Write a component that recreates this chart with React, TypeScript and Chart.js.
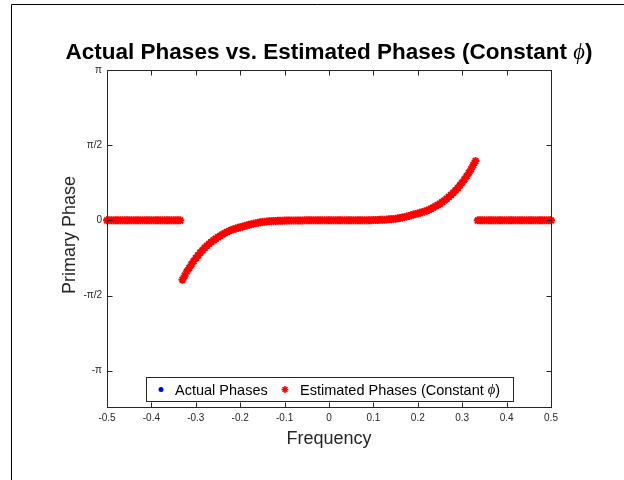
import React, { useEffect, useRef } from "react";
import { Chart, registerables } from "chart.js";

Chart.register(...registerables);

const FONT = '"Liberation Sans", Arial, Helvetica, sans-serif';
const SERIF = '"Liberation Serif", "DejaVu Serif", serif';
const TEXT = "#262626";

const titleMain = "Actual Phases vs. Estimated Phases (Constant ";
const phiSymbol = "\u03D5";
const xLabel = "Frequency";
const yLabel = "Primary Phase";
const legendActual = "Actual Phases";
const legendEstimated = "Estimated Phases (Constant ";

const xTickValues = [-0.5, -0.4, -0.3, -0.2, -0.1, 0, 0.1, 0.2, 0.3, 0.4, 0.5];
const xTickLabels = ["-0.5", "-0.4", "-0.3", "-0.2", "-0.1", "0", "0.1", "0.2", "0.3", "0.4", "0.5"];
const yTickValues = [-Math.PI, -Math.PI / 2, 0, Math.PI / 2, Math.PI];
const yTickLabels = ["-\u03C0", "-\u03C0/2", "0", "\u03C0/2", "\u03C0"];

const frequencies = [
  -0.5, -0.495, -0.49, -0.485, -0.48, -0.475, -0.47, -0.465, -0.46, -0.455,
  -0.45, -0.445, -0.44, -0.435, -0.43, -0.425, -0.42, -0.415, -0.41, -0.405,
  -0.4, -0.395, -0.39, -0.385, -0.38, -0.375, -0.37, -0.365, -0.36, -0.355,
  -0.35, -0.345, -0.34, -0.335, -0.33, -0.325, -0.32, -0.315, -0.31, -0.305,
  -0.3, -0.295, -0.29, -0.285, -0.28, -0.275, -0.27, -0.265, -0.26, -0.255,
  -0.25, -0.245, -0.24, -0.235, -0.23, -0.225, -0.22, -0.215, -0.21, -0.205,
  -0.2, -0.195, -0.19, -0.185, -0.18, -0.175, -0.17, -0.165, -0.16, -0.155,
  -0.15, -0.145, -0.14, -0.135, -0.13, -0.125, -0.12, -0.115, -0.11, -0.105,
  -0.1, -0.095, -0.09, -0.085, -0.08, -0.075, -0.07, -0.065, -0.06, -0.055,
  -0.05, -0.045, -0.04, -0.035, -0.03, -0.025, -0.02, -0.015, -0.01, -0.005,
  0, 0.005, 0.01, 0.015, 0.02, 0.025, 0.03, 0.035, 0.04, 0.045,
  0.05, 0.055, 0.06, 0.065, 0.07, 0.075, 0.08, 0.085, 0.09, 0.095,
  0.1, 0.105, 0.11, 0.115, 0.12, 0.125, 0.13, 0.135, 0.14, 0.145,
  0.15, 0.155, 0.16, 0.165, 0.17, 0.175, 0.18, 0.185, 0.19, 0.195,
  0.2, 0.205, 0.21, 0.215, 0.22, 0.225, 0.23, 0.235, 0.24, 0.245,
  0.25, 0.255, 0.26, 0.265, 0.27, 0.275, 0.28, 0.285, 0.29, 0.295,
  0.3, 0.305, 0.31, 0.315, 0.32, 0.325, 0.33, 0.335, 0.34, 0.345,
  0.35, 0.355, 0.36, 0.365, 0.37, 0.375, 0.38, 0.385, 0.39, 0.395,
  0.4, 0.405, 0.41, 0.415, 0.42, 0.425, 0.43, 0.435, 0.44, 0.445,
  0.45, 0.455, 0.46, 0.465, 0.47, 0.475, 0.48, 0.485, 0.49, 0.495,
  0.5,
];

const estimatedPhases = [
  0, 0, 0, 0, 0, 0, 0, 0, 0, 0,
  0, 0, 0, 0, 0, 0, 0, 0, 0, 0,
  0, 0, 0, 0, 0, 0, 0, 0, 0, 0,
  0, 0, 0, 0, -1.24, -1.155, -1.07, -0.995, -0.92, -0.855,
  -0.79, -0.732, -0.675, -0.625, -0.575, -0.532, -0.49, -0.452, -0.415, -0.382,
  -0.35, -0.322, -0.295, -0.27, -0.245, -0.222, -0.2, -0.185, -0.17, -0.157,
  -0.145, -0.132, -0.12, -0.105, -0.09, -0.08, -0.07, -0.06, -0.05, -0.042,
  -0.035, -0.03, -0.025, -0.021, -0.018, -0.015, -0.012, -0.01, -0.008, -0.006,
  -0.005, -0.004, -0.003, -0.003, -0.002, -0.002, -0.001, -0.001, -0.001, 0,
  0, 0, 0, 0, 0, 0, 0, 0, 0, 0,
  0, 0, 0, 0, 0, 0, 0, 0, 0, 0,
  0, 0, 0.001, 0.001, 0.001, 0.002, 0.002, 0.003, 0.003, 0.004,
  0.005, 0.006, 0.008, 0.01, 0.012, 0.015, 0.018, 0.021, 0.025, 0.03,
  0.035, 0.042, 0.05, 0.06, 0.07, 0.08, 0.09, 0.105, 0.12, 0.132,
  0.145, 0.157, 0.17, 0.185, 0.2, 0.222, 0.245, 0.27, 0.295, 0.322,
  0.35, 0.382, 0.415, 0.452, 0.49, 0.532, 0.575, 0.625, 0.675, 0.732,
  0.79, 0.855, 0.92, 0.995, 1.07, 1.155, 1.24, 0, 0, 0,
  0, 0, 0, 0, 0, 0, 0, 0, 0, 0,
  0, 0, 0, 0, 0, 0, 0, 0, 0, 0,
  0, 0, 0, 0, 0, 0, 0, 0, 0, 0,
  0,
];

// The actual phases coincide with the estimates (hidden beneath the red markers)
const actualPhases = estimatedPhases.slice();

function drawStar(ctx: CanvasRenderingContext2D, x: number, y: number, r: number) {
  ctx.beginPath();
  ctx.moveTo(x - r, y);
  ctx.lineTo(x + r, y);
  ctx.moveTo(x, y - r);
  ctx.lineTo(x, y + r);
  const d = r * Math.SQRT1_2;
  ctx.moveTo(x - d, y - d);
  ctx.lineTo(x + d, y + d);
  ctx.moveTo(x - d, y + d);
  ctx.lineTo(x + d, y - d);
  ctx.stroke();
}

const decorPlugin = {
  id: "matlabDecor",
  afterDraw(chart: any) {
    const ctx: CanvasRenderingContext2D = chart.ctx;
    const { left, right, top, bottom } = chart.chartArea;
    const xs = chart.scales.x;
    const ys = chart.scales.y;
    ctx.save();

    // figure frame
    ctx.strokeStyle = "#000";
    ctx.lineWidth = 1;
    ctx.beginPath();
    ctx.moveTo(11.5, 480);
    ctx.lineTo(11.5, 4.5);
    ctx.lineTo(624, 4.5);
    ctx.stroke();

    // axes box
    const L = Math.round(left) + 0.5;
    const R = Math.round(right) + 0.5;
    const T = Math.round(top) + 0.5;
    const B = Math.round(bottom) + 0.5;
    ctx.strokeStyle = TEXT;
    ctx.lineWidth = 1;
    ctx.strokeRect(L, T, R - L, B - T);

    // inward ticks
    ctx.beginPath();
    xTickValues.forEach((v) => {
      const px = Math.round(xs.getPixelForValue(v)) + 0.5;
      ctx.moveTo(px, B);
      ctx.lineTo(px, B - 5);
      ctx.moveTo(px, T);
      ctx.lineTo(px, T + 5);
    });
    yTickValues.forEach((v) => {
      const py = Math.round(ys.getPixelForValue(v)) + 0.5;
      ctx.moveTo(L, py);
      ctx.lineTo(L + 5, py);
      ctx.moveTo(R, py);
      ctx.lineTo(R - 5, py);
    });
    ctx.stroke();

    // title with italic phi
    ctx.fillStyle = "#000";
    ctx.textBaseline = "alphabetic";
    ctx.textAlign = "left";
    const boldFont = `bold 22.5px ${FONT}`;
    const phiFont = `italic 22.5px ${SERIF}`;
    ctx.font = boldFont;
    const w1 = ctx.measureText(titleMain).width;
    const w3 = ctx.measureText(")").width;
    ctx.font = phiFont;
    const w2 = ctx.measureText(phiSymbol).width;
    const tx = (left + right) / 2 - (w1 + w2 + w3) / 2;
    const tb = 59;
    ctx.font = boldFont;
    ctx.fillText(titleMain, tx, tb);
    ctx.font = phiFont;
    ctx.fillText(phiSymbol, tx + w1, tb);
    ctx.font = boldFont;
    ctx.fillText(")", tx + w1 + w2, tb);

    // axis titles
    ctx.fillStyle = TEXT;
    ctx.font = `18px ${FONT}`;
    ctx.textAlign = "center";
    ctx.fillText(xLabel, (left + right) / 2, 444);
    ctx.save();
    ctx.translate(75, 235);
    ctx.rotate(-Math.PI / 2);
    ctx.fillText(yLabel, 0, 0);
    ctx.restore();

    // legend
    const lx = 146.5, ly = 377.5, lw = 367, lh = 24;
    ctx.fillStyle = "#fff";
    ctx.fillRect(lx, ly, lw, lh);
    ctx.strokeStyle = TEXT;
    ctx.strokeRect(lx, ly, lw, lh);
    const cy = ly + lh / 2;
    ctx.fillStyle = "#0000ff";
    ctx.beginPath();
    ctx.arc(161, cy, 2.5, 0, Math.PI * 2);
    ctx.fill();
    ctx.strokeStyle = "#ff0000";
    ctx.lineWidth = 1.5;
    drawStar(ctx, 285, cy, 3.5);
    ctx.fillStyle = "#000";
    ctx.textAlign = "left";
    ctx.textBaseline = "middle";
    const legFont = `14.5px ${FONT}`;
    ctx.font = legFont;
    ctx.fillText(legendActual, 175, cy + 1);
    ctx.fillText(legendEstimated, 300, cy + 1);
    const we = ctx.measureText(legendEstimated).width;
    ctx.font = `italic 14.5px ${SERIF}`;
    ctx.fillText(phiSymbol, 300 + we, cy + 1);
    const wp = ctx.measureText(phiSymbol).width;
    ctx.font = legFont;
    ctx.fillText(")", 300 + we + wp, cy + 1);

    ctx.restore();
  },
};

export default function App() {
  const canvasRef = useRef<HTMLCanvasElement | null>(null);

  useEffect(() => {
    if (!canvasRef.current) return;
    const actual = frequencies.map((f, i) => ({ x: f, y: actualPhases[i] }));
    const estimated = frequencies.map((f, i) => ({ x: f, y: estimatedPhases[i] }));
    const chart = new Chart(canvasRef.current, {
      type: "scatter",
      data: {
        datasets: [
          {
            label: legendActual,
            data: actual,
            pointStyle: "circle",
            pointRadius: 2,
            backgroundColor: "#0000ff",
            borderColor: "#0000ff",
            borderWidth: 0,
            order: 1,
            clip: false,
          } as any,
          {
            label: legendEstimated,
            data: estimated,
            pointStyle: "star",
            pointRadius: 4,
            borderColor: "#ff0000",
            backgroundColor: "#ff0000",
            borderWidth: 2,
            order: 0,
            clip: false,
          } as any,
        ],
      },
      options: {
        responsive: false,
        animation: false,
        events: [],
        layout: { padding: { left: 0, top: 70, right: 73, bottom: 0 } },
        plugins: {
          legend: { display: false },
          title: { display: false },
          tooltip: { enabled: false },
        },
        scales: {
          x: {
            type: "linear",
            min: -0.5,
            max: 0.5,
            grid: { display: false, drawTicks: false },
            border: { display: false },
            ticks: {
              padding: 5,
              color: TEXT,
              font: { family: FONT, size: 10 },
              callback: (v: any) => {
                const i = xTickValues.findIndex((t) => Math.abs(t - Number(v)) < 1e-9);
                return i >= 0 ? xTickLabels[i] : "";
              },
            },
            afterBuildTicks: (s: any) => {
              s.ticks = xTickValues.map((v) => ({ value: v }));
            },
            afterFit: (s: any) => {
              s.height = 73;
            },
          },
          y: {
            type: "linear",
            min: -3.9,
            max: Math.PI,
            grid: { display: false, drawTicks: false },
            border: { display: false },
            ticks: {
              padding: 5,
              color: TEXT,
              font: { family: FONT, size: 10 },
              callback: (v: any) => {
                const i = yTickValues.findIndex((t) => Math.abs(t - Number(v)) < 1e-6);
                return i >= 0 ? yTickLabels[i] : "";
              },
            },
            afterBuildTicks: (s: any) => {
              s.ticks = yTickValues.map((v) => ({ value: v }));
            },
            afterFit: (s: any) => {
              s.width = 107;
            },
          },
        },
      } as any,
      plugins: [decorPlugin],
    });
    return () => chart.destroy();
  }, []);

  return (
    <div style={{ position: "absolute", left: 0, top: 0, width: 624, height: 480, background: "#fff" }}>
      <canvas ref={canvasRef} width={624} height={480} style={{ display: "block", width: 624, height: 480 }} />
    </div>
  );
}
